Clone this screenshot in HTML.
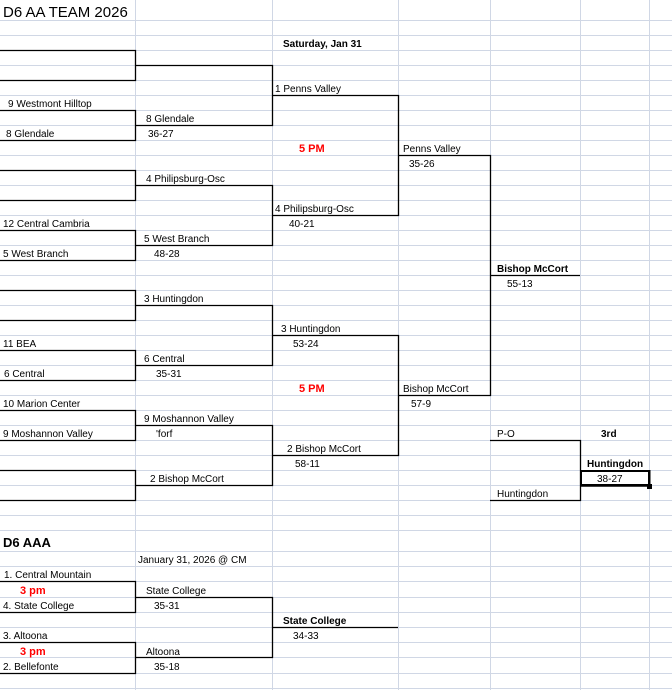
<!DOCTYPE html>
<html><head><meta charset="utf-8"><style>
html,body{margin:0;padding:0;background:#fff;}
svg{display:block;}
text{font-family:"Liberation Sans",sans-serif;font-size:10px;fill:#000;}
.b{font-weight:bold;}
.r{fill:#ff0000;font-weight:bold;font-size:11px;}
</style></head><body>
<svg width="672" height="690" viewBox="0 0 672 690" xmlns="http://www.w3.org/2000/svg">
<defs>
<pattern id="g" x="0" y="20" width="672" height="15" patternUnits="userSpaceOnUse">
<line x1="0" y1="0.5" x2="672" y2="0.5" stroke="#d0d7e5" stroke-width="1"/>
</pattern>
</defs>
<rect x="0" y="20" width="672" height="511" fill="url(#g)"/>
<g stroke="#d0d7e5" stroke-width="1">
<line x1="0" y1="551.5" x2="672" y2="551.5"/>
<line x1="0" y1="566.5" x2="672" y2="566.5"/>
<line x1="0" y1="581.5" x2="672" y2="581.5"/>
<line x1="0" y1="597.5" x2="672" y2="597.5"/>
<line x1="0" y1="612.5" x2="672" y2="612.5"/>
<line x1="0" y1="627.5" x2="672" y2="627.5"/>
<line x1="0" y1="642.5" x2="672" y2="642.5"/>
<line x1="0" y1="657.5" x2="672" y2="657.5"/>
<line x1="0" y1="673.5" x2="672" y2="673.5"/>
<line x1="0" y1="688.5" x2="672" y2="688.5"/>
<line x1="135.5" y1="0" x2="135.5" y2="690"/>
<line x1="272.5" y1="0" x2="272.5" y2="690"/>
<line x1="398.5" y1="0" x2="398.5" y2="690"/>
<line x1="490.5" y1="0" x2="490.5" y2="690"/>
<line x1="580.5" y1="0" x2="580.5" y2="690"/>
<line x1="649.5" y1="0" x2="649.5" y2="690"/>
</g>
<g stroke="#000" stroke-width="1.3" fill="none">
<!-- group 1 -->
<path d="M0 50.5H135.5V80.5H0"/>
<path d="M0 110.5H135.5V140.5H0"/>
<path d="M135 65.5H272.5V125.5H135"/>
<!-- group 2 -->
<path d="M0 170.5H135.5V200.5H0"/>
<path d="M0 230.5H135.5V260.5H0"/>
<path d="M135 185.5H272.5V245.5H135"/>
<path d="M272 95.5H398.5V215.5H272"/>
<!-- group 3 -->
<path d="M0 290.5H135.5V320.5H0"/>
<path d="M0 350.5H135.5V380.5H0"/>
<path d="M135 305.5H272.5V365.5H135"/>
<!-- group 4 -->
<path d="M0 410.5H135.5V440.5H0"/>
<path d="M0 470.5H135.5V500.5H0"/>
<path d="M135 425.5H272.5V485.5H135"/>
<path d="M272 335.5H398.5V455.5H272"/>
<!-- semis/final -->
<path d="M398 155.5H490.5V395.5H398"/>
<path d="M490 275.5H580"/>
<path d="M490 440.5H580.5V500.5H490"/>
<!-- bottom -->
<path d="M0 581.5H135.5V612.5H0"/>
<path d="M0 642.5H135.5V673.5H0"/>
<path d="M135 597.5H272.5V657.5H135"/>
<path d="M272 627.5H398"/>
</g>
<rect x="580.5" y="470.5" width="69" height="15" fill="none" stroke="#000" stroke-width="1"/>
<rect x="581.5" y="471.5" width="67" height="13" fill="none" stroke="#000" stroke-width="1"/>
<line x1="649.5" y1="470" x2="649.5" y2="487" stroke="#000" stroke-width="2"/>
<line x1="580" y1="486" x2="651" y2="486" stroke="#000" stroke-width="1.5"/>
<rect x="647" y="484" width="5" height="5" fill="#000"/>

<text x="3" y="17" style="font-size:15px">D6 AA TEAM 2026</text>
<text x="283" y="47" class="b">Saturday, Jan 31</text>
<text x="275" y="92">1 Penns Valley</text>
<text x="8" y="107">9  Westmont Hilltop</text>
<text x="146" y="122">8 Glendale</text>
<text x="6" y="137">8  Glendale</text>
<text x="148" y="137">36-27</text>
<text x="299" y="152" class="r">5 PM</text>
<text x="403" y="152">Penns Valley</text>
<text x="409" y="167">35-26</text>
<text x="146" y="182">4 Philipsburg-Osc</text>
<text x="275" y="212">4 Philipsburg-Osc</text>
<text x="289" y="227">40-21</text>
<text x="3" y="227">12  Central Cambria</text>
<text x="144" y="242">5 West Branch</text>
<text x="3" y="257">5 West Branch</text>
<text x="154" y="257">48-28</text>
<text x="497" y="272" class="b">Bishop McCort</text>
<text x="507" y="287">55-13</text>
<text x="144" y="302">3 Huntingdon</text>
<text x="281" y="332">3 Huntingdon</text>
<text x="293" y="347">53-24</text>
<text x="3" y="347">11 BEA</text>
<text x="144" y="362">6 Central</text>
<text x="4" y="377">6 Central</text>
<text x="156" y="377">35-31</text>
<text x="299" y="392" class="r">5 PM</text>
<text x="403" y="392">Bishop McCort</text>
<text x="411" y="407">57-9</text>
<text x="3" y="407">10  Marion Center</text>
<text x="144" y="422">9 Moshannon Valley</text>
<text x="3" y="437">9 Moshannon Valley</text>
<text x="156" y="437">'forf</text>
<text x="287" y="452">2 Bishop McCort</text>
<text x="295" y="467">58-11</text>
<text x="150" y="482">2 Bishop McCort</text>
<text x="497" y="437">P-O</text>
<text x="601" y="437" class="b">3rd</text>
<text x="587" y="467" class="b">Huntingdon</text>
<text x="597" y="482">38-27</text>
<text x="497" y="497">Huntingdon</text>

<text x="3" y="547" class="b" style="font-size:13px">D6 AAA</text>
<text x="138" y="563">January 31, 2026 @ CM</text>
<text x="4" y="578">1. Central Mountain</text>
<text x="20" y="594" class="r">3 pm</text>
<text x="146" y="594">State College</text>
<text x="3" y="609">4. State College</text>
<text x="154" y="609">35-31</text>
<text x="283" y="624" class="b">State College</text>
<text x="293" y="639">34-33</text>
<text x="3" y="639">3. Altoona</text>
<text x="20" y="655" class="r">3 pm</text>
<text x="146" y="655">Altoona</text>
<text x="3" y="670">2. Bellefonte</text>
<text x="154" y="670">35-18</text>
</svg>
</body></html>
